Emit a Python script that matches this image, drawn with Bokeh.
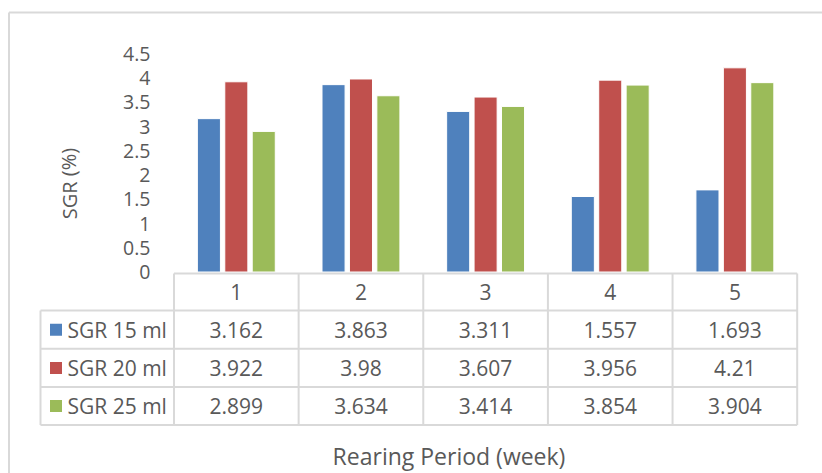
from bokeh.plotting import figure
from bokeh.models import Range1d
from bokeh.core.properties import value
from bokeh.embed import file_html
from bokeh.resources import INLINE

# ---- data ----
weeks = ["1", "2", "3", "4", "5"]
series_names = ["SGR 15 ml", "SGR 20 ml", "SGR 25 ml"]
sgr_15 = [3.162, 3.863, 3.311, 1.557, 1.693]
sgr_20 = [3.922, 3.98, 3.607, 3.956, 4.21]
sgr_25 = [2.899, 3.634, 3.414, 3.854, 3.904]
series_colors = ["#4F81BD", "#C0504D", "#9BBB59"]
y_ticks = [0, 0.5, 1, 1.5, 2, 2.5, 3, 3.5, 4, 4.5]
y_tick_labels = ["0", "0.5", "1", "1.5", "2", "2.5", "3", "3.5", "4", "4.5"]
x_title = "Rearing Period (week)"
y_title = "SGR (%)"

series = [sgr_15, sgr_20, sgr_25]

# ---- layout / style ----
W, H = 822, 473
PX_X = 124.64       # pixels per category
PX_Y = 48.5         # pixels per unit of SGR
ORG_X = 173.5       # pixel of the left edge of category 1
ORG_Y = 271.5       # pixel of SGR = 0


def dx(px):
    return 0.5 + (px - ORG_X) / PX_X


def dy(py):
    return (ORG_Y - py) / PX_Y


x0, x1 = dx(0), dx(W)
y0, y1 = dy(H), dy(0)
FONT = value("Open Sans")
TXT = "#595959"
GRID = "#D9D9D9"

p = figure(width=W, height=H, x_range=Range1d(x0, x1), y_range=Range1d(y0, y1),
           output_backend="svg", toolbar_location=None,
           x_axis_location=None, y_axis_location=None, min_border=0)
p.outline_line_color = None
p.grid.grid_line_color = None
p.background_fill_color = "white"
p.border_fill_color = "white"

xs = [i + 1 for i in range(len(weeks))]
n = len(xs)

# outer chart border (top and left visible)
border_top = dy(12)
border_left = dx(8.5)
p.segment(x0=[border_left], y0=[border_top], x1=[x1], y1=[border_top], line_color=GRID, line_width=2)
p.segment(x0=[border_left], y0=[y0], x1=[border_left], y1=[border_top], line_color=GRID, line_width=2)

# bars
bar_w = 0.185
offsets = [-0.22, 0.0, 0.22]
for vals, col, off in zip(series, series_colors, offsets):
    p.vbar(x=[x + off for x in xs], top=vals, bottom=0, width=bar_w,
           fill_color=col, line_color="white", line_width=1)

# y tick labels
p.text(x=[dx(150)] * len(y_ticks), y=y_ticks, text=y_tick_labels,
       text_font=FONT, text_font_size="19.5px", text_color=TXT,
       text_align="right", text_baseline="middle")

# y title
p.text(x=[dx(68.5)], y=[dy(183)], text=[y_title], angle=1.5708,
       text_font=FONT, text_font_size="20px", text_color=TXT,
       text_align="center", text_baseline="middle")

# data table
head_top = dy(273)
row_lines = [dy(310), dy(348.3), dy(386.6), dy(424.5)]
head_bot = row_lines[0]
leg_left = dx(40)
col_edges = [x - 0.5 for x in xs] + [xs[-1] + 0.5]

# header top line
p.segment(x0=[col_edges[0]], y0=[head_top], x1=[col_edges[-1]], y1=[head_top],
          line_color=GRID, line_width=2)
# row lines
p.segment(x0=[leg_left] * len(row_lines), y0=row_lines,
          x1=[col_edges[-1]] * len(row_lines), y1=row_lines,
          line_color=GRID, line_width=2)
# column lines
p.segment(x0=col_edges, y0=[head_top] * len(col_edges), x1=col_edges,
          y1=[row_lines[-1]] * len(col_edges), line_color=GRID, line_width=2)
p.segment(x0=[leg_left], y0=[head_bot], x1=[leg_left], y1=[row_lines[-1]],
          line_color=GRID, line_width=2)

# header labels
p.text(x=xs, y=[(head_top + head_bot) / 2] * n, text=weeks,
       text_font=FONT, text_font_size="21px", text_color=TXT,
       text_align="center", text_baseline="middle")

row_mid = [(row_lines[k] + row_lines[k + 1]) / 2 for k in range(len(series))]
for k, vals in enumerate(series):
    p.text(x=xs, y=[row_mid[k]] * n, text=[f"{v:g}" for v in vals],
           text_font=FONT, text_font_size="21px", text_color=TXT,
           text_align="center", text_baseline="middle")

# legend keys and names in first column
p.scatter(x=[dx(55.5)] * len(series), y=row_mid, marker="square", size=12,
          fill_color=series_colors, line_color=None)
p.text(x=[dx(67)] * len(series), y=row_mid, text=series_names,
       text_font=FONT, text_font_size="21px", text_color=TXT,
       text_align="left", text_baseline="middle")

# x title
p.text(x=[dx(448.5)], y=[dy(455)], text=[x_title],
       text_font=FONT, text_font_size="23px", text_color=TXT,
       text_align="center", text_baseline="middle")

open("out.html", "w").write(file_html(p, INLINE))
